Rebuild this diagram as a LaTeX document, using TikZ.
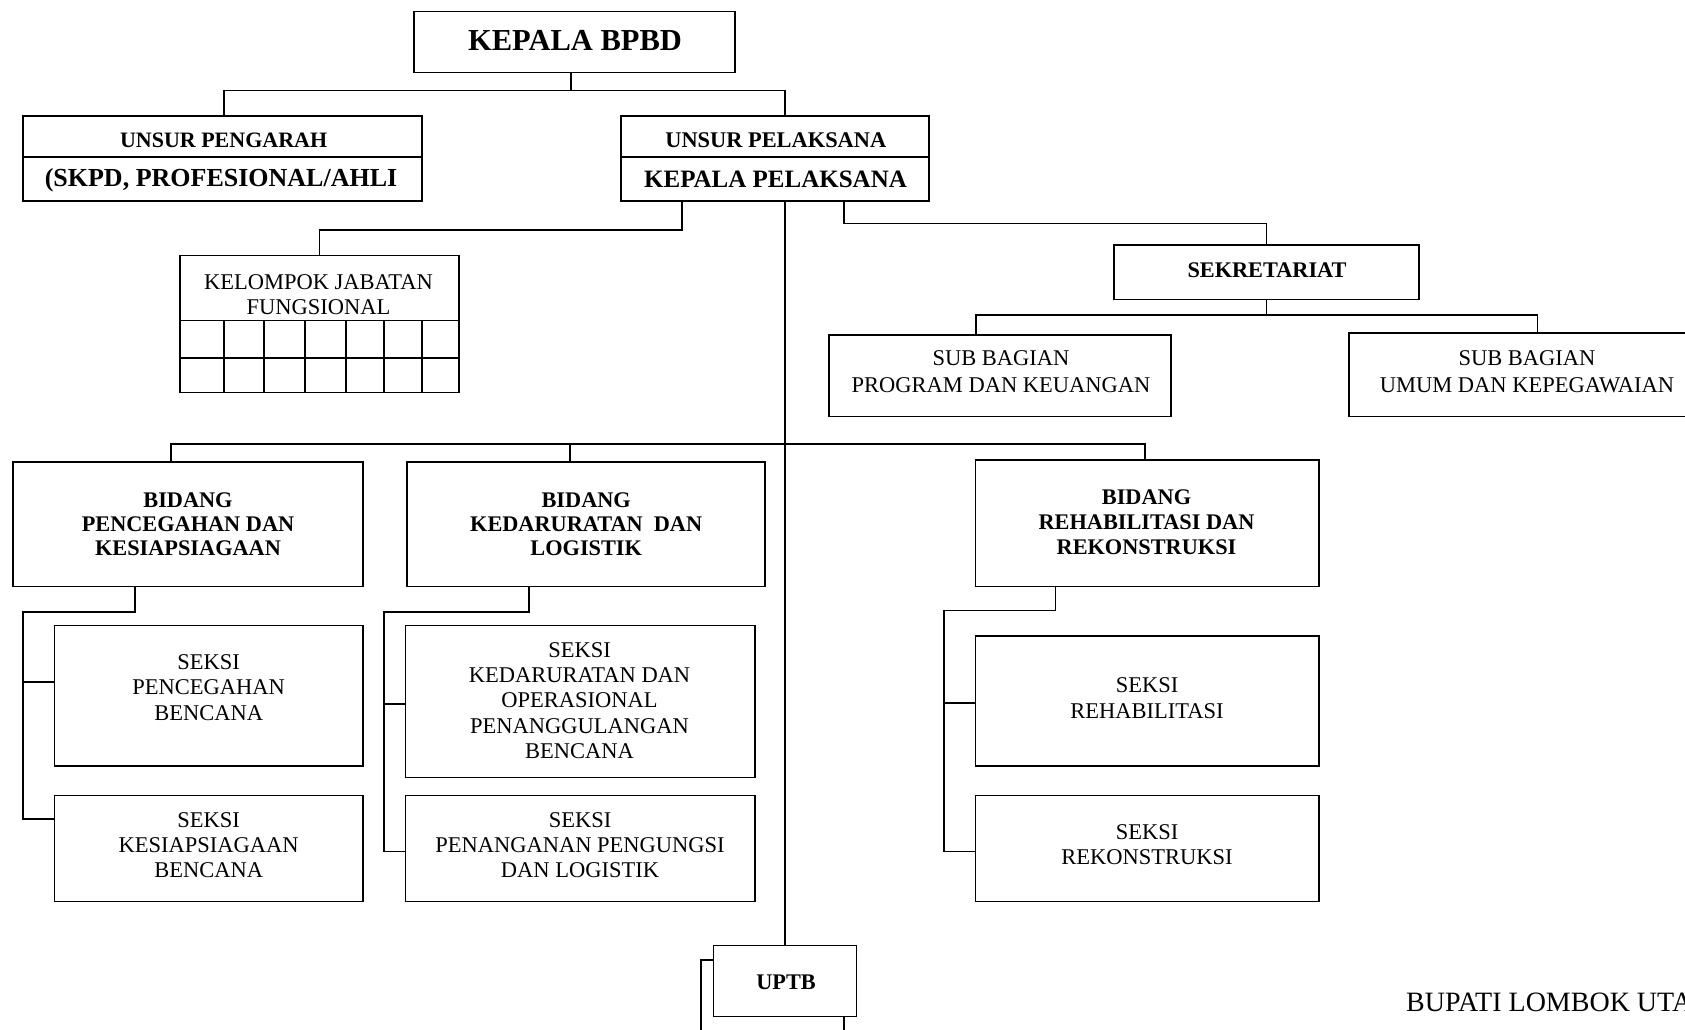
\documentclass[tikz,border=0pt]{standalone}
\usepackage{fontspec}
\setmainfont{Liberation Serif}
\newcommand\txtlines[6]{\foreach \lineText [count=\lineNo] in {#6}{\node[#5] (#1-\lineNo) at (#2,{#3+(\lineNo-1)*#4}) {\lineText};}}
\begin{document}
\begin{tikzpicture}[x=1pt,y=-1pt,
  box/.style={draw, line width=1.5pt, inner sep=0, fill=white},
  conn/.style={line width=1.5pt},
  rg/.style={font=\fontsize{22.5}{25}\selectfont, inner sep=0, anchor=base},
  bd/.style={font=\bfseries\fontsize{22.3}{24}\selectfont, inner sep=0, anchor=base}]
\useasboundingbox (0,0) rectangle (1685,1029);
\fill[white] (0,0) rectangle (1685,1029);
\clip (0,0) rectangle (1685,1029);

% boxes
\node[box, minimum width=321pt, minimum height=61pt] (kepala) at (574.5,42.2) {};
\node[box, minimum width=399pt, minimum height=85pt] (pengarah) at (222.5,158.5) {};
\node[box, minimum width=308pt, minimum height=85pt] (pelaksana) at (775,158.5) {};
\node[box, minimum width=279pt, minimum height=137pt] (kelompok) at (319.5,324.2) {};
\node[box, minimum width=305pt, minimum height=54.3pt] (sek) at (1266.5,272.2) {};
\node[box, minimum width=342pt, minimum height=81.7pt] (subprog) at (1000,375.8) {};
\node[box, minimum width=348pt, minimum height=83.7pt] (subumum) at (1523,374.8) {};
\node[box, minimum width=350.2pt, minimum height=124.7pt] (bidA) at (187.9,524.3) {};
\node[box, minimum width=358pt, minimum height=124.7pt] (bidB) at (586,524.3) {};
\node[box, minimum width=343.5pt, minimum height=126.7pt] (bidC) at (1147.2,523.3) {};
\node[box, minimum width=308.4pt, minimum height=140.3pt] (sA1) at (208.8,695.8) {};
\node[box, minimum width=308.4pt, minimum height=106pt] (sA2) at (208.8,848.7) {};
\node[box, minimum width=349.4pt, minimum height=152pt] (sB1) at (580.3,701.7) {};
\node[box, minimum width=349.4pt, minimum height=106pt] (sB2) at (580.3,848.7) {};
\node[box, minimum width=343.5pt, minimum height=130pt] (sC1) at (1147.2,701) {};
\node[box, minimum width=343.5pt, minimum height=106pt] (sC2) at (1147.2,848.7) {};
\node[box, minimum width=143pt, minimum height=71pt] (uptbback) at (772.5,995.5) {};
\node[box, minimum width=143pt, minimum height=71pt] (uptb) at (785,981.2) {};

% dividers inside boxes
\coordinate (dv) at (0,157);
\draw[conn] (pengarah.west |- dv) -- (pengarah.east |- dv);
\draw[conn] (pelaksana.west |- dv) -- (pelaksana.east |- dv);
\coordinate (r1) at (0,320.7);
\coordinate (r2) at (0,358);
\draw[conn] (kelompok.west |- r1) -- (kelompok.east |- r1);
\draw[conn] (kelompok.west |- r2) -- (kelompok.east |- r2);
\foreach \cx in {224,264,305,346,384,422}{\draw[conn] (\cx,320.7) -- (\cx,392.7);}

% connectors
\coordinate (k0) at (571,90.7);
\coordinate (k1) at (224,90.7);
\coordinate (k2) at (785,90.7);
\draw[conn] (k0 |- kepala.south) -- (k0);
\draw[conn] (k1 |- pengarah.north) -- (k1) -- (k2) -- (k2 |- pelaksana.north);
\coordinate (p1) at (682,230);
\draw[conn] (p1 |- pelaksana.south) -- (p1) -| (kelompok.north);
\draw[conn] (pelaksana.south -| uptb.north) -- (uptb.north);
\coordinate (p3) at (844,223.3);
\draw[conn] (p3 |- pelaksana.south) -- (p3) -| (sek.north);
\coordinate (s1) at (976,315);
\coordinate (s2) at (1537.6,315);
\draw[conn] (sek.south) -- (sek.south |- s1);
\draw[conn] (s1 |- subprog.north) -- (s1) -- (s2) -- (s2 |- subumum.north);
\coordinate (bA) at (171,444);
\coordinate (bB) at (570,444);
\coordinate (bC) at (1145,444);
\draw[conn] (bA |- bidA.north) -- (bA) -- (bC) -- (bC |- bidC.north);
\draw[conn] (bB) -- (bB |- bidB.north);
\coordinate (jA) at (135,612);
\coordinate (tA) at (23,612);
\coordinate (eA) at (23,819);
\coordinate (mA) at (23,682);
\draw[conn] (jA |- bidA.south) -- (jA) -- (tA) -- (eA) -- (eA -| sA2.west);
\draw[conn] (mA) -- (mA -| sA1.west);
\coordinate (jB) at (529,612);
\coordinate (tB) at (384,612);
\coordinate (eB) at (384,851.7);
\coordinate (mB) at (384,704);
\draw[conn] (jB |- bidB.south) -- (jB) -- (tB) -- (eB) -- (eB -| sB2.west);
\draw[conn] (mB) -- (mB -| sB1.west);
\coordinate (jC) at (1055.6,610.7);
\coordinate (tC) at (944,610.7);
\coordinate (eC) at (944,851.7);
\coordinate (mC) at (944,703);
\draw[conn] (jC |- bidC.south) -- (jC) -- (tC) -- (eC) -- (eC -| sC2.west);
\draw[conn] (mC) -- (mC -| sC1.west);

% texts
\node[bd, font=\bfseries\fontsize{30.5}{32}\selectfont] (t-kepala) at (575,50) {KEPALA BPBD};
\node[bd, font=\bfseries\fontsize{22}{24}\selectfont] (t-pengarah1) at (223.6,147) {UNSUR PENGARAH};
\node[bd, font=\bfseries\fontsize{26}{28}\selectfont] (t-pengarah2) at (221,186.5) {(SKPD, PROFESIONAL/AHLI};
\node[bd, font=\bfseries\fontsize{22.4}{24}\selectfont] (t-pelaksana1) at (775.8,147.4) {UNSUR PELAKSANA};
\node[bd, font=\bfseries\fontsize{25}{26}\selectfont] (t-pelaksana2) at (775.5,187.3) {KEPALA PELAKSANA};
\txtlines{t-kel}{318.5}{289.1}{25}{rg}{KELOMPOK JABATAN,FUNGSIONAL}
\node[bd] (t-sek) at (1267,277.4) {SEKRETARIAT};
\txtlines{t-sp}{1001}{365.4}{27}{rg}{SUB BAGIAN,PROGRAM DAN KEUANGAN}
\txtlines{t-su}{1527}{365.4}{27}{rg}{SUB BAGIAN,UMUM DAN KEPEGAWAIAN}
\txtlines{t-bA}{188}{507.4}{24}{bd}{BIDANG,PENCEGAHAN DAN,KESIAPSIAGAAN}
\txtlines{t-bB}{586.2}{507.4}{24}{bd}{BIDANG,KEDARURATAN~ DAN,LOGISTIK}
\txtlines{t-bC}{1146.5}{504.1}{25}{bd}{BIDANG,REHABILITASI DAN,REKONSTRUKSI}
\txtlines{t-sA1}{208.7}{669.4}{25.3}{rg}{SEKSI,PENCEGAHAN,BENCANA}
\txtlines{t-sA2}{208.7}{827.4}{25}{rg}{SEKSI,KESIAPSIAGAAN,BENCANA}
\txtlines{t-sB1}{579.6}{657.4}{25.2}{rg}{SEKSI,KEDARURATAN DAN,OPERASIONAL,PENANGGULANGAN,BENCANA}
\txtlines{t-sB2}{580}{827.4}{25}{rg}{SEKSI,PENANGANAN PENGUNGSI,DAN LOGISTIK}
\txtlines{t-sC1}{1147}{692.4}{25.7}{rg}{SEKSI,REHABILITASI}
\txtlines{t-sC2}{1147}{839.1}{25}{rg}{SEKSI,REKONSTRUKSI}
\node[bd] (t-uptb) at (786,989.1) {UPTB};
\node[rg, font=\fontsize{28}{30}\selectfont, anchor=base west] (t-bupati) at (1406,1011.7) {BUPATI LOMBOK UTARA};
\end{tikzpicture}
\end{document}
